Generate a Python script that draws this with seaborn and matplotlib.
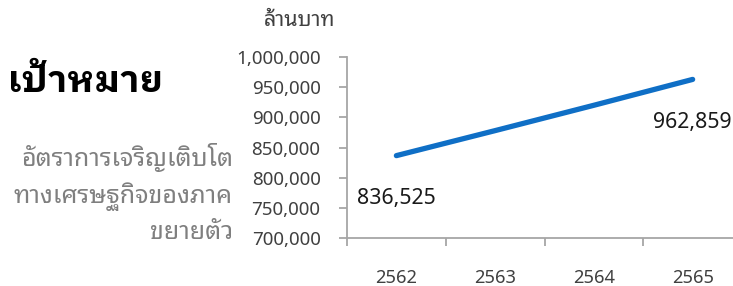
import matplotlib
matplotlib.use("Agg")
import numpy as np
import pandas as pd
import seaborn as sns
import matplotlib.pyplot as plt
from matplotlib.ticker import FuncFormatter, FixedLocator

# data (ล้านบาท)
years = ["2562", "2563", "2564", "2565"]
gdp = [836525, 878000, 920000, 962859]
label_idx = [0, 3]
y_ticks = [700000, 750000, 800000, 850000, 900000, 950000, 1000000]

title = "เป้าหมาย"
subtitle = "อัตราการเจริญเติบโต\nทางเศรษฐกิจของภาค\nขยายตัว"
unit = "ล้านบาท"

sns.set_theme(style="white")
plt.rcParams["font.family"] = ["Noto Sans", "Noto Sans Thai Looped", "DejaVu Sans"]
thai = ["Noto Sans Thai Looped", "DejaVu Sans"]
thai_bold = ["IBM Plex Sans Thai Looped", "Noto Sans Thai Looped", "DejaVu Sans"]

df = pd.DataFrame({"year": years, "gdp": gdp})

fig = plt.figure(figsize=(7.33, 2.86), dpi=100)
ax = fig.add_axes([0.4734, 0.1678, 0.5389, 0.6329])

sns.lineplot(data=df, x="year", y="gdp", ax=ax, color="#0f6fc6",
             linewidth=3.8, solid_capstyle="round")

ax.set_xlim(-0.5, 3.5)
ax.set_ylim(700000, 1000000)
ax.set_yticks(y_ticks)
ax.yaxis.set_major_formatter(FuncFormatter(lambda v, p: f"{v:,.0f}"))
ax.set_xlabel("")
ax.set_ylabel("")

# category boundaries carry the tick marks, labels sit in the middle
ax.xaxis.set_minor_locator(FixedLocator(np.arange(-0.5, 4, 1)))
ax.tick_params(axis="x", which="major", length=0, pad=22, labelsize=13.2, labelcolor="#404040")
ax.tick_params(axis="x", which="minor", length=6, width=1.3, color="#a6a6a6", direction="out", bottom=True)
ax.tick_params(axis="y", length=6, width=1.3, color="#a6a6a6", direction="out", left=True,
               labelsize=13.5, labelcolor="#404040", pad=13)

for s in ["top", "right"]:
    ax.spines[s].set_visible(False)
for s in ["left", "bottom"]:
    ax.spines[s].set_color("#a6a6a6")
    ax.spines[s].set_linewidth(1.3)

for i in label_idx:
    ax.annotate(f"{gdp[i]:,}", (i, gdp[i]), xytext=(0, -31), textcoords="offset points",
                ha="center", va="center", fontsize=15.3, color="#1a1a1a")

fig.text(335 / 733, 1 - 21 / 286, unit, ha="right", va="center", fontsize=15.5,
         color="#404040", family=thai)
fig.text(163 / 733, 1 - 82 / 286, title, ha="right", va="center", fontsize=26.5,
         fontweight="bold", color="black", family=thai_bold)
fig.text(233 / 733, 1 - 194 / 286, subtitle, ha="right", va="center", fontsize=18,
         color="#7f7f7f", family=thai, linespacing=1.5, multialignment="right")

fig.savefig("out.png", dpi=100)
